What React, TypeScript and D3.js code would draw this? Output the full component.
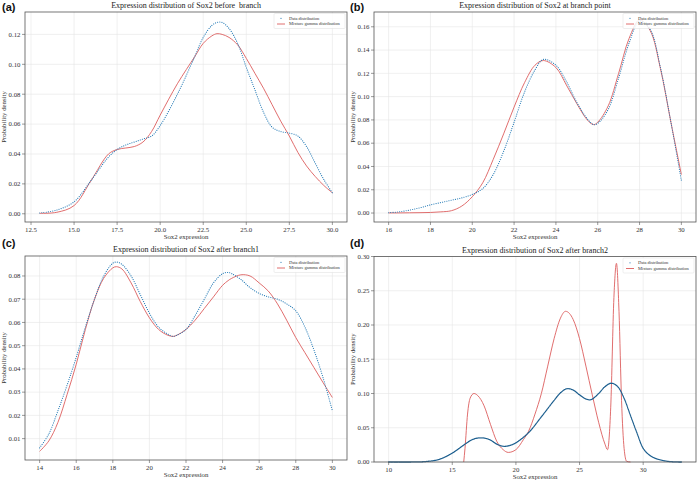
import React from "react";
import * as d3 from "d3";

// ---------- data ----------
const A_X = [13, 14, 15, 16, 17, 17.5, 18, 18.5, 19, 19.5, 20, 21, 22, 22.5, 23, 23.3, 23.6, 24, 24.5, 25, 25.5, 26, 26.5, 27, 27.5, 28, 28.5, 29, 29.5, 30];
const A_DATA = [0.0005, 0.0025, 0.008, 0.0225, 0.038, 0.043, 0.046, 0.048, 0.050, 0.052, 0.059, 0.080, 0.105, 0.118, 0.126, 0.128, 0.128, 0.124, 0.114, 0.098, 0.083, 0.068, 0.058, 0.055, 0.054, 0.052, 0.045, 0.034, 0.023, 0.014];
const A_FIT = [0.0003, 0.001, 0.0055, 0.0225, 0.040, 0.0430, 0.044, 0.045, 0.048, 0.055, 0.066, 0.087, 0.105, 0.114, 0.119, 0.1205, 0.120, 0.118, 0.113, 0.104, 0.094, 0.084, 0.073, 0.062, 0.052, 0.041, 0.032, 0.025, 0.019, 0.014];

const B_X = [16, 16.5, 17, 17.5, 18, 18.5, 19, 19.5, 20, 20.5, 21, 21.5, 22, 22.5, 23, 23.4, 24, 24.5, 25, 25.5, 25.8, 26, 26.5, 27, 27.5, 28, 28.5, 29, 29.5, 30];
const B_DATA = [0.0003, 0.001, 0.0025, 0.0045, 0.007, 0.009, 0.011, 0.013, 0.016, 0.021, 0.033, 0.053, 0.078, 0.104, 0.123, 0.132, 0.127, 0.113, 0.095, 0.081, 0.076, 0.077, 0.089, 0.116, 0.146, 0.165, 0.158, 0.125, 0.078, 0.028];
const B_FIT = [0.0001, 0.0001, 0.0002, 0.0003, 0.0005, 0.001, 0.002, 0.006, 0.014, 0.026, 0.046, 0.068, 0.091, 0.112, 0.127, 0.131, 0.125, 0.110, 0.094, 0.080, 0.076, 0.078, 0.092, 0.120, 0.150, 0.166, 0.157, 0.124, 0.078, 0.033];

const C_X = [14, 14.5, 15, 15.5, 16, 16.5, 17, 17.5, 18, 18.2, 18.5, 19, 19.5, 20, 20.5, 21, 21.3, 21.5, 22, 22.5, 23, 23.5, 24, 24.3, 24.5, 25, 25.5, 26, 26.5, 27, 27.5, 28, 28.5, 29, 29.5, 30];
const C_DATA = [0.006, 0.012, 0.022, 0.033, 0.045, 0.058, 0.070, 0.080, 0.0855, 0.086, 0.085, 0.080, 0.072, 0.064, 0.058, 0.055, 0.054, 0.0545, 0.057, 0.063, 0.070, 0.077, 0.081, 0.0815, 0.081, 0.0785, 0.075, 0.0725, 0.071, 0.070, 0.068, 0.065, 0.058, 0.048, 0.036, 0.022];
const C_FIT = [0.0045, 0.009, 0.017, 0.029, 0.042, 0.057, 0.070, 0.079, 0.0835, 0.084, 0.083, 0.077, 0.069, 0.062, 0.057, 0.0545, 0.054, 0.0545, 0.057, 0.061, 0.066, 0.071, 0.076, 0.078, 0.079, 0.0805, 0.080, 0.077, 0.0735, 0.068, 0.061, 0.0535, 0.047, 0.0405, 0.034, 0.0277];

const D_X = [10, 11, 12, 13, 14, 15, 16, 16.5, 17, 17.5, 18, 18.5, 19, 19.5, 20, 21, 22, 23, 23.5, 24, 24.5, 25, 25.5, 25.9, 26.5, 27, 27.5, 28, 28.5, 29, 29.5, 30, 30.5, 31, 32, 33];
const D_DATA = [0, 0, 0.0001, 0.0008, 0.004, 0.013, 0.026, 0.032, 0.035, 0.035, 0.032, 0.026, 0.023, 0.024, 0.028, 0.043, 0.066, 0.090, 0.101, 0.107, 0.105, 0.098, 0.092, 0.091, 0.100, 0.110, 0.115, 0.110, 0.093, 0.068, 0.043, 0.020, 0.010, 0.005, 0.0008, 0];
const D_FIT_X = [15.9, 16.0, 16.2, 16.4, 16.7, 17, 17.5, 18, 18.5, 19, 19.4, 20, 20.6, 21, 21.5, 22, 22.5, 23, 23.5, 23.9, 24.5, 25, 25.5, 26, 26.5, 27, 27.2, 27.45, 27.7, 27.9, 28.1, 28.3, 28.5, 28.7, 29];
const D_FIT = [0, 0.02, 0.07, 0.093, 0.100, 0.097, 0.082, 0.055, 0.030, 0.018, 0.014, 0.018, 0.033, 0.045, 0.07, 0.10, 0.14, 0.18, 0.21, 0.22, 0.208, 0.180, 0.140, 0.098, 0.058, 0.026, 0.018, 0.08, 0.24, 0.29, 0.22, 0.09, 0.02, 0.001, 0];

const A_XTICKS = [12.5, 15, 17.5, 20, 22.5, 25, 27.5, 30];
const A_YTICKS = [0, 0.02, 0.04, 0.06, 0.08, 0.1, 0.12];
const B_XTICKS = [16, 18, 20, 22, 24, 26, 28, 30];
const B_YTICKS = [0, 0.02, 0.04, 0.06, 0.08, 0.1, 0.12, 0.14, 0.16];
const C_XTICKS = [14, 16, 18, 20, 22, 24, 26, 28, 30];
const C_YTICKS = [0.01, 0.02, 0.03, 0.04, 0.05, 0.06, 0.07, 0.08];
const D_XTICKS = [10, 15, 20, 25, 30];
const D_YTICKS = [0, 0.05, 0.1, 0.15, 0.2, 0.25, 0.3];

const TITLES = [
  "Expression distribution of Sox2 before  branch",
  "Expression distribution of Sox2 at branch point",
  "Expression distribution of Sox2 after branch1",
  "Expression distribution of Sox2 after branch2",
];
const LETTERS = ["(a)", "(b)", "(c)", "(d)"];
const LEGEND = ["Data distribution", "Mixture gamma distribution"];

const BLUE = "#1f77b4";
const RED = "#dd5e5e";
const SERIF = "'Liberation Serif', 'Times New Roman', serif";

type PanelProps = {
  box: { l: number; r: number; t: number; b: number };
  xDomain: [number, number];
  yDomain: [number, number];
  dataX: number[];
  dataY: number[];
  fitX: number[];
  fitY: number[];
  xTicks: number[];
  yTicks: number[];
  xFmt: string;
  title: string;
  letter: string;
  letterPos: [number, number];
  dense?: boolean;
};

function Panel(p: PanelProps) {
  const { box } = p;
  const x = d3.scaleLinear().domain(p.xDomain).range([box.l, box.r]);
  const y = d3.scaleLinear().domain(p.yDomain).range([box.b, box.t]);
  const smooth = d3
    .line<[number, number]>()
    .x((d) => x(d[0]))
    .y((d) => y(d[1]))
    .curve(d3.curveCatmullRom.alpha(0.5));
  const mono = d3
    .line<[number, number]>()
    .x((d) => x(d[0]))
    .y((d) => y(d[1]))
    .curve(d3.curveMonotoneX);
  const dataPts = p.dataX.map((v, i) => [v, p.dataY[i]] as [number, number]);
  const fitPts = p.fitX.map((v, i) => [v, p.fitY[i]] as [number, number]);
  const fitLine = p.dense ? mono : smooth;
  const xf = d3.format(p.xFmt);
  const yf = d3.format(".2f");
  const cx = (box.l + box.r) / 2;
  const cy = (box.t + box.b) / 2;
  const lgW = 71;
  const lgH = 15;
  const lgX = box.r - lgW - 2;
  const lgY = box.t + 1.5;
  return (
    <g>
      <text x={p.letterPos[0]} y={p.letterPos[1]} fontFamily="'Liberation Sans', Arial, sans-serif" fontWeight="bold" fontSize={11} fill="#111">
        {p.letter}
      </text>
      <text x={cx} y={box.t - 4} textAnchor="middle" fontFamily={SERIF} fontSize={8} fill="#222" style={{ whiteSpace: "pre" }}>
        {p.title}
      </text>
      {/* grid */}
      {p.xTicks.map((t) => (
        <line key={"gx" + t} x1={x(t)} x2={x(t)} y1={box.t} y2={box.b} stroke="#e6e6e6" strokeWidth={0.6} />
      ))}
      {p.yTicks.map((t) => (
        <line key={"gy" + t} x1={box.l} x2={box.r} y1={y(t)} y2={y(t)} stroke="#e6e6e6" strokeWidth={0.6} />
      ))}
      {/* curves */}
      <path d={fitLine(fitPts) || ""} fill="none" stroke={RED} strokeWidth={0.9} />
      <path
        d={smooth(dataPts) || ""}
        fill="none"
        stroke={p.dense ? "#1d5f8f" : BLUE}
        strokeWidth={p.dense ? 1.3 : 1.1}
        strokeLinecap="round"
        strokeDasharray={p.dense ? "0.1 0.9" : "0.1 2.1"}
      />
      {/* frame */}
      <rect x={box.l} y={box.t} width={box.r - box.l} height={box.b - box.t} fill="none" stroke="#555" strokeWidth={0.8} />
      {/* x ticks */}
      {p.xTicks.map((t) => (
        <g key={"xt" + t}>
          <line x1={x(t)} x2={x(t)} y1={box.b} y2={box.b + 3} stroke="#555" strokeWidth={0.6} />
          <text x={x(t)} y={box.b + 9.5} textAnchor="middle" fontFamily={SERIF} fontSize={6.8} fill="#333">
            {xf(t)}
          </text>
        </g>
      ))}
      {/* y ticks */}
      {p.yTicks.map((t) => (
        <g key={"yt" + t}>
          <line x1={box.l - 3} x2={box.l} y1={y(t)} y2={y(t)} stroke="#555" strokeWidth={0.6} />
          <text x={box.l - 4.5} y={y(t) + 2.3} textAnchor="end" fontFamily={SERIF} fontSize={6.8} fill="#333">
            {yf(t)}
          </text>
        </g>
      ))}
      <text x={cx} y={box.b + 17} textAnchor="middle" fontFamily={SERIF} fontSize={6.8} fill="#333">
        Sox2 expression
      </text>
      <text
        transform={`translate(${box.l - 19.5},${cy}) rotate(-90)`}
        textAnchor="middle"
        fontFamily={SERIF}
        fontSize={6.8}
        fill="#333"
      >
        Probability density
      </text>
      {/* legend */}
      <rect x={lgX} y={lgY} width={lgW} height={lgH} fill="#fff" fillOpacity={0.85} stroke="#ddd" strokeWidth={0.5} rx={1} />
      <circle cx={lgX + 7} cy={lgY + 4.8} r={0.6} fill={BLUE} />
      <line x1={lgX + 3} x2={lgX + 11} y1={lgY + 10.5} y2={lgY + 10.5} stroke={RED} strokeWidth={0.9} />
      <text x={lgX + 15} y={lgY + 6.2} fontFamily={SERIF} fontSize={4.5} fill="#333">
        {LEGEND[0]}
      </text>
      <text x={lgX + 15} y={lgY + 11.9} fontFamily={SERIF} fontSize={4.5} fill="#333">
        {LEGEND[1]}
      </text>
    </g>
  );
}

export default function App() {
  return (
    <svg width={698} height={483} style={{ position: "absolute", left: 0, top: 0, background: "#fff" }}>
      <rect width={698} height={483} fill="#fff" />
      <Panel
        box={{ l: 25, r: 347, t: 12, b: 222 }}
        xDomain={[12.15, 30.85]}
        yDomain={[-0.0055, 0.135]}
        dataX={A_X}
        dataY={A_DATA}
        fitX={A_X}
        fitY={A_FIT}
        xTicks={A_XTICKS}
        yTicks={A_YTICKS}
        xFmt=".1f"
        title={TITLES[0]}
        letter={LETTERS[0]}
        letterPos={[2, 11]}
      />
      <Panel
        box={{ l: 374, r: 696, t: 12, b: 222 }}
        xDomain={[15.3, 30.7]}
        yDomain={[-0.0077, 0.1727]}
        dataX={B_X}
        dataY={B_DATA}
        fitX={B_X}
        fitY={B_FIT}
        xTicks={B_XTICKS}
        yTicks={B_YTICKS}
        xFmt="d"
        title={TITLES[1]}
        letter={LETTERS[1]}
        letterPos={[350, 11]}
      />
      <Panel
        box={{ l: 25, r: 347, t: 256, b: 460 }}
        xDomain={[13.2, 30.8]}
        yDomain={[0.0008, 0.0886]}
        dataX={C_X}
        dataY={C_DATA}
        fitX={C_X}
        fitY={C_FIT}
        xTicks={C_XTICKS}
        yTicks={C_YTICKS}
        xFmt="d"
        title={TITLES[2]}
        letter={LETTERS[2]}
        letterPos={[2, 247]}
      />
      <Panel
        box={{ l: 374, r: 696, t: 256.5, b: 462 }}
        xDomain={[8.85, 34.15]}
        yDomain={[0, 0.3]}
        dataX={D_X}
        dataY={D_DATA}
        fitX={D_FIT_X}
        fitY={D_FIT}
        xTicks={D_XTICKS}
        yTicks={D_YTICKS}
        xFmt="d"
        title={TITLES[3]}
        letter={LETTERS[3]}
        letterPos={[350, 247]}
        dense
      />
    </svg>
  );
}
